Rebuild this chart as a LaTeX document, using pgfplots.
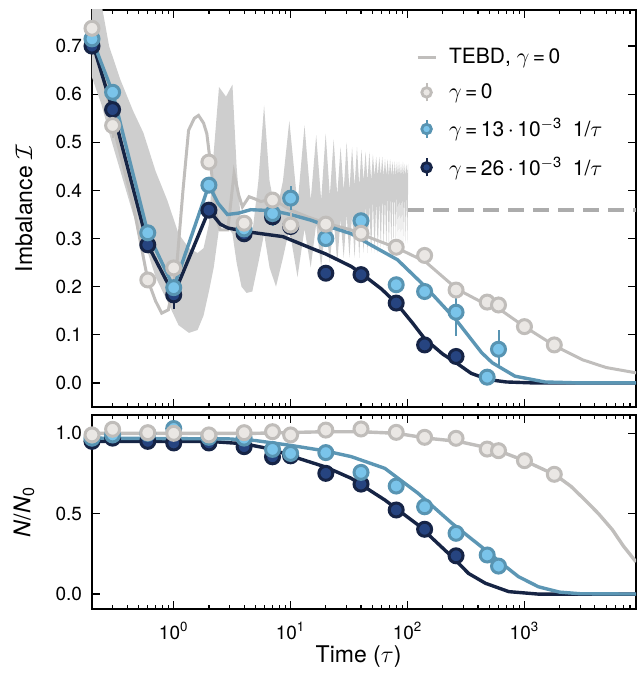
\documentclass[border=0pt]{standalone}
\usepackage{fontspec}
\setmainfont{TeX Gyre Heros}
\usepackage{pgfplots}
\pgfplotsset{compat=1.18}

\definecolor{bandgray}{RGB}{206,206,206}
\definecolor{tebdgray}{RGB}{192,190,188}
\definecolor{gfill}{RGB}{234,231,228}
\definecolor{gedge}{RGB}{192,189,186}
\definecolor{lbfill}{RGB}{122,196,234}
\definecolor{lbedge}{RGB}{88,148,178}
\definecolor{dbfill}{RGB}{38,68,128}
\definecolor{dbedge}{RGB}{22,36,70}
\definecolor{lbline}{RGB}{92,150,180}
\definecolor{dbline}{RGB}{22,36,68}
\definecolor{dashgray}{RGB}{172,172,172}

\pgfplotsset{
  mydots/.style 2 args={forget plot, only marks, mark=*, mark size=3.5pt,
    mark options={fill=#1, draw=#2, line width=1.5pt},
    error bars/y dir=both, error bars/y explicit, error bars/error mark=none,
    error bars/error bar style={draw=#2, line width=1pt}},
  mycurve/.style={line width=1.7pt, forget plot},
}

\begin{document}
\begin{tikzpicture}
\useasboundingbox (-46pt,-32pt) rectangle (274.5pt,304.5pt);

% ---------------- top panel: imbalance ----------------
\begin{axis}[at={(0,101pt)}, anchor=south west,
  width=272pt, height=198.5pt, scale only axis,
  xmode=log, xmin=0.2, xmax=9000,
  xtick={1,10,100,1000},
  minor xtick={0.2,0.3,0.4,0.5,0.6,0.7,0.8,0.9,2,3,4,5,6,7,8,9,20,30,40,50,60,70,80,90,200,300,400,500,600,700,800,900,2000,3000,4000,5000,6000,7000,8000,9000},
  tick align=inside, major tick length=4pt, minor tick length=2pt,
  tick style={black, line width=0.6pt},
  axis line style={line width=0.6pt},
  tick label style={font=\fontsize{9.5}{11}\selectfont},
  yticklabel style={xshift=-1.5pt},
  label style={font=\fontsize{11.5}{13}\selectfont},
  ylabel style={at={(axis description cs:-0.125,0.5)}, anchor=center},
  ymin=-0.05, ymax=0.775,
  ytick={0,0.1,0.2,0.3,0.4,0.5,0.6,0.7},
  yticklabels={0.0,0.1,0.2,0.3,0.4,0.5,0.6,0.7},
  xticklabels={},
  ylabel={Imbalance $\mathcal{I}$},
  legend style={draw=none, fill=none, at={(0.595,0.915)}, anchor=north west,
    inner sep=0pt, row sep=4.5pt, column sep=4pt, font=\fontsize{10.5}{12}\selectfont},
  legend cell align=left]

\addlegendimage{legend image code/.code={\draw[tebdgray, line width=1.5pt] (0pt,0pt) -- (9pt,0pt);}}
\addlegendentry{TEBD, $\gamma$\,=\,0}
\addlegendimage{legend image code/.code={
  \draw[gedge, line width=1pt] (4.5pt,-4.5pt) -- (4.5pt,4.5pt);
  \draw[draw=gedge, fill=gfill, line width=1.4pt] (4.5pt,0pt) circle (2.4pt);}}
\addlegendentry{$\gamma$\,=\,0}
\addlegendimage{legend image code/.code={
  \draw[lbedge, line width=1pt] (4.5pt,-4.5pt) -- (4.5pt,4.5pt);
  \draw[draw=lbedge, fill=lbfill, line width=1.4pt] (4.5pt,0pt) circle (2.4pt);}}
\addlegendentry{$\gamma$\,=\,13\,$\cdot$\,10\textsuperscript{$-$3}\enspace 1/$\tau$}
\addlegendimage{legend image code/.code={
  \draw[dbedge, line width=1pt] (4.5pt,-4.5pt) -- (4.5pt,4.5pt);
  \draw[draw=dbedge, fill=dbfill, line width=1.4pt] (4.5pt,0pt) circle (2.4pt);}}
\addlegendentry{$\gamma$\,=\,26\,$\cdot$\,10\textsuperscript{$-$3}\enspace 1/$\tau$}

% TEBD band (upper edge forward, lower edge back)
\addplot[fill=bandgray, draw=none, forget plot] coordinates {
(0.2,0.80) (0.24,0.79) (0.28,0.70) (0.35,0.63) (0.45,0.565) (0.55,0.52) (0.7,0.44)
(0.88,0.38) (1.1,0.31) (1.35,0.28) (1.6,0.27) (1.8,0.28) (2.0,0.33) (2.2,0.48)
(2.44,0.615) (2.8,0.595) (3.18,0.62) (3.45,0.45) (3.8,0.32) (4.2,0.30) (4.7,0.31)
(5.3,0.42) (5.93,0.577) (6.6,0.42) (7.5,0.35) (8.6,0.42)
(9.75,0.545) (11.45,0.37) (13.15,0.535) (14.85,0.38) (16.55,0.515) (18.25,0.38)
(19.95,0.518) (21.65,0.39) (23.35,0.506) (25.05,0.39) (26.75,0.49) (28.45,0.40)
(30.15,0.50) (31.85,0.40) (33.55,0.49) (35.25,0.41) (36.95,0.49) (38.65,0.41)
(40.35,0.485) (42.05,0.42) (43.75,0.48) (45.45,0.42) (47.15,0.48) (48.85,0.42)
(50.55,0.475) (52.25,0.43) (53.95,0.47) (55.65,0.43) (57.35,0.47) (59.05,0.43)
(60.75,0.47) (62.45,0.43) (64.15,0.465) (65.85,0.43) (67.55,0.465) (69.25,0.43)
(70.95,0.465) (72.65,0.43) (74.35,0.46) (76.05,0.43) (77.75,0.46) (79.45,0.43)
(81.15,0.46) (82.85,0.43) (84.55,0.46) (86.25,0.43) (87.95,0.455) (89.65,0.43)
(91.35,0.46) (93.05,0.43) (94.75,0.455) (96.45,0.43) (98.15,0.455) (99.85,0.43)
(101,0.455)
(101,0.40) (99.85,0.29) (98.15,0.40) (96.45,0.29) (94.75,0.40) (93.05,0.29)
(91.35,0.40) (89.65,0.29) (87.95,0.40) (86.25,0.29) (84.55,0.40) (82.85,0.29)
(81.15,0.40) (79.45,0.29) (77.75,0.40) (76.05,0.29) (74.35,0.40) (72.65,0.28)
(70.95,0.39) (69.25,0.28) (67.55,0.39) (65.85,0.28) (64.15,0.39) (62.45,0.28)
(60.75,0.39) (59.05,0.28) (57.35,0.38) (55.65,0.27) (53.95,0.38) (52.25,0.27)
(50.55,0.38) (48.85,0.27) (47.15,0.37) (45.45,0.27) (43.75,0.37) (42.05,0.27)
(40.35,0.36) (38.65,0.26) (36.95,0.36) (35.25,0.26) (33.55,0.35) (31.85,0.26)
(30.15,0.35) (28.45,0.26) (26.75,0.34) (25.05,0.25) (23.35,0.34) (21.65,0.25)
(19.95,0.33) (18.25,0.24) (16.55,0.33) (14.85,0.24) (13.15,0.32) (11.45,0.22)
(9.75,0.32) (8.6,0.26) (7.5,0.20) (6.6,0.24) (5.93,0.31) (5.3,0.25) (4.7,0.19)
(4.2,0.187) (3.8,0.20) (3.45,0.25) (3.18,0.31) (2.8,0.33) (2.44,0.32) (2.2,0.24)
(2.0,0.19) (1.8,0.14) (1.6,0.11) (1.35,0.104) (1.1,0.12) (0.88,0.17) (0.7,0.22)
(0.55,0.30) (0.45,0.35) (0.35,0.44) (0.28,0.52) (0.24,0.58) (0.2,0.635)
} -- cycle;

\addplot[dashgray, line width=2pt, dash pattern=on 8pt off 4.5pt, forget plot]
  coordinates {(101,0.36) (9000,0.36)};

% TEBD average and gamma = 0 curve
\addplot[tebdgray, line width=1.5pt, forget plot] coordinates {
(0.2,0.74) (0.25,0.64) (0.3,0.54) (0.45,0.37) (0.6,0.214) (0.7,0.17) (0.79,0.145)
(0.9,0.152) (1.0,0.21) (1.06,0.242) (1.2,0.40) (1.34,0.525) (1.5,0.55) (1.63,0.556)
(1.8,0.54) (1.92,0.518) (2.1,0.44) (2.34,0.339) (2.5,0.318) (2.9,0.318) (3.28,0.435)
(3.6,0.39) (3.87,0.366) (4.41,0.387) (5.0,0.382) (5.56,0.377) (6.3,0.38) (7.2,0.38)
(8.5,0.37) (10.1,0.359) (14,0.345) (20,0.332) (33,0.318) (50,0.30) (82,0.28)
(142,0.252) (265,0.195) (400,0.172) (640,0.150) (1000,0.117) (1850,0.076)
(3150,0.048) (5000,0.032) (9000,0.021)};

\addplot[mycurve, dbline] coordinates {
(0.2,0.71) (0.3,0.568) (0.6,0.287) (1,0.183) (2,0.359) (2.5,0.33) (2.9,0.322)
(4.3,0.314) (8.6,0.304) (15,0.28) (20,0.268) (33,0.242) (40,0.228) (60,0.195)
(80,0.166) (110,0.125) (140,0.092) (200,0.06) (260,0.042) (350,0.02) (490,0.007)
(700,0.002) (1200,0) (9000,0)};

\addplot[mycurve, lbline] coordinates {
(0.2,0.715) (0.3,0.604) (0.6,0.312) (1,0.198) (2,0.411) (2.4,0.373) (2.88,0.35)
(3.6,0.353) (4.55,0.36) (7,0.358) (10,0.35) (15,0.338) (20,0.327) (33,0.31)
(50,0.285) (82,0.256) (142,0.20) (260,0.131) (430,0.063) (530,0.042) (830,0.014)
(1500,0.002) (3000,0) (9000,0)};

\addplot[mydots={dbfill}{dbedge}] coordinates {
(0.2,0.70) +- (0,0.01) (0.3,0.568) +- (0,0.01) (0.6,0.287) +- (0,0.01)
(1,0.183) +- (0,0.03) (2,0.359) +- (0,0.01) (4,0.31) +- (0,0.01)
(7,0.345) +- (0,0.01) (10,0.325) +- (0,0.01) (20,0.228) +- (0,0.01)
(40,0.225) +- (0,0.01) (80,0.166) +- (0,0.01) (140,0.079) +- (0,0.01)
(260,0.055) +- (0,0.01)};

\addplot[mydots={lbfill}{lbedge}] coordinates {
(0.2,0.715) +- (0,0.01) (0.3,0.604) +- (0,0.01) (0.6,0.312) +- (0,0.01)
(1,0.198) +- (0,0.015) (2,0.411) +- (0,0.01) (4,0.32) +- (0,0.01)
(7,0.352) +- (0,0.025) (10,0.384) +- (0,0.025) (20,0.30) +- (0,0.01)
(40,0.337) +- (0,0.01) (80,0.204) +- (0,0.01) (140,0.19) +- (0,0.01)
(260,0.147) +- (0,0.05) (480,0.012) +- (0,0.01) (600,0.070) +- (0,0.04)};

\addplot[mydots={gfill}{gedge}] coordinates {
(0.2,0.737) +- (0,0.01) (0.3,0.535) +- (0,0.025) (0.6,0.214) +- (0,0.01)
(1,0.239) +- (0,0.01) (2,0.459) +- (0,0.01) (4,0.332) +- (0,0.01)
(7,0.38) +- (0,0.01) (10,0.328) +- (0,0.025) (20,0.33) +- (0,0.01)
(40,0.311) +- (0,0.01) (80,0.282) +- (0,0.01) (140,0.265) +- (0,0.01)
(260,0.193) +- (0,0.01) (480,0.168) +- (0,0.01) (600,0.162) +- (0,0.01)
(1000,0.117) +- (0,0.01) (1800,0.079) +- (0,0.01)};
\end{axis}

% ---------------- bottom panel: atom number ----------------
\begin{axis}[at={(0,0)}, anchor=south west,
  width=272pt, height=97pt, scale only axis,
  xmode=log, xmin=0.2, xmax=9000,
  xtick={1,10,100,1000},
  minor xtick={0.2,0.3,0.4,0.5,0.6,0.7,0.8,0.9,2,3,4,5,6,7,8,9,20,30,40,50,60,70,80,90,200,300,400,500,600,700,800,900,2000,3000,4000,5000,6000,7000,8000,9000},
  tick align=inside, major tick length=4pt, minor tick length=2pt,
  tick style={black, line width=0.6pt},
  axis line style={line width=0.6pt},
  tick label style={font=\fontsize{9.5}{11}\selectfont},
  yticklabel style={xshift=-1.5pt},
  xticklabel style={yshift=-3pt},
  label style={font=\fontsize{11.5}{13}\selectfont},
  ylabel style={at={(axis description cs:-0.125,0.5)}, anchor=center},
  ymin=-0.093, ymax=1.114,
  ytick={0,0.5,1}, yticklabels={0.0,0.5,1.0},
  xticklabels={10\textsuperscript{0},10\textsuperscript{1},10\textsuperscript{2},10\textsuperscript{3}},
  ylabel={\textit{N}/\textit{N}\textsubscript{0}},
  xlabel={Time ($\tau$)},
  xlabel style={at={(axis description cs:0.49,0)}, anchor=center, yshift=-24pt}]

\addplot[mycurve, tebdgray] coordinates {
(0.2,1.0) (5,1.0) (20,1.01) (40,1.01) (81,1.0) (146,0.97) (270,0.95) (560,0.9)
(1000,0.83) (1850,0.74) (2500,0.67) (3300,0.585) (4300,0.50) (5650,0.40)
(7000,0.30) (9000,0.20)};

\addplot[mycurve, dbline] coordinates {
(0.2,0.95) (2,0.95) (4,0.935) (7,0.9) (10,0.86) (20,0.79) (33,0.72) (64,0.585)
(123,0.43) (240,0.232) (333,0.128) (464,0.067) (735,0.015) (1300,0) (9000,0)};

\addplot[mycurve, lbline] coordinates {
(0.2,0.97) (3,0.965) (5,0.955) (10,0.925) (20,0.89) (33,0.855) (64,0.782)
(123,0.627) (240,0.44) (464,0.274) (640,0.19) (890,0.108) (1320,0.045)
(2000,0.012) (3000,0.002) (9000,0)};

\addplot[mydots={dbfill}{dbedge}] coordinates {
(0.2,0.95) +- (0,0.01) (0.3,0.97) +- (0,0.01) (0.6,0.95) +- (0,0.01)
(1,0.94) +- (0,0.01) (2,0.94) +- (0,0.01) (4,0.917) +- (0,0.01)
(7,0.854) +- (0,0.01) (10,0.86) +- (0,0.01) (20,0.751) +- (0,0.01)
(40,0.684) +- (0,0.01) (80,0.523) +- (0,0.01) (140,0.403) +- (0,0.01)
(260,0.238) +- (0,0.01)};

\addplot[mydots={lbfill}{lbedge}] coordinates {
(0.2,0.97) +- (0,0.01) (0.3,0.99) +- (0,0.01) (0.6,1.0) +- (0,0.01)
(1,1.03) +- (0,0.01) (2,0.975) +- (0,0.01) (4,0.97) +- (0,0.01)
(7,0.90) +- (0,0.01) (10,0.875) +- (0,0.01) (20,0.88) +- (0,0.01)
(40,0.757) +- (0,0.01) (80,0.672) +- (0,0.01) (140,0.543) +- (0,0.01)
(260,0.378) +- (0,0.01) (480,0.243) +- (0,0.01) (600,0.174) +- (0,0.01)};

\addplot[mydots={gfill}{gedge}] coordinates {
(0.2,0.99) +- (0,0.01) (0.3,1.025) +- (0,0.01) (0.6,1.004) +- (0,0.01)
(1,1.0) +- (0,0.01) (2,0.99) +- (0,0.01) (4,1.004) +- (0,0.01)
(7,1.01) +- (0,0.01) (10,0.99) +- (0,0.01) (20,1.02) +- (0,0.01)
(40,1.027) +- (0,0.01) (80,1.006) +- (0,0.01) (140,0.975) +- (0,0.01)
(260,0.969) +- (0,0.01) (480,0.902) +- (0,0.01) (600,0.892) +- (0,0.01)
(1000,0.83) +- (0,0.01) (1800,0.745) +- (0,0.01)};
\end{axis}
\end{tikzpicture}
\end{document}
